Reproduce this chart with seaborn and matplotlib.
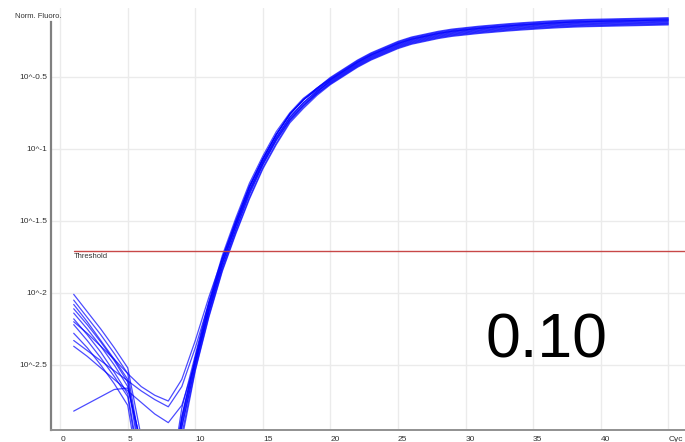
import numpy as np
import pandas as pd
import matplotlib
matplotlib.use("Agg")
import matplotlib.pyplot as plt
from matplotlib.transforms import ScaledTranslation
import seaborn as sns

# Cycle numbers and normalised fluorescence (log10) for each well
cycles = list(range(1, 46))

well_1 = [-2.01, -2.13, -2.25, -2.38, -2.52, -3.00, -3.45, -3.40, -2.80,
          -2.43, -2.06, -1.74, -1.48, -1.24, -1.05, -0.88, -0.75, -0.65, -0.58,
          -0.51, -0.45, -0.39, -0.34, -0.30, -0.26, -0.23, -0.21, -0.19,
          -0.175, -0.165, -0.155, -0.147, -0.139, -0.132, -0.126, -0.120, -0.115, -0.111,
          -0.108, -0.106, -0.104, -0.102, -0.100, -0.098, -0.096]
well_2 = [-2.05, -2.17, -2.29, -2.42, -2.56, -3.10, -3.50, -3.45, -2.86,
          -2.45, -2.08, -1.76, -1.50, -1.26, -1.07, -0.90, -0.76, -0.66, -0.59,
          -0.52, -0.46, -0.40, -0.35, -0.31, -0.27, -0.24, -0.22, -0.20,
          -0.185, -0.175, -0.165, -0.157, -0.149, -0.142, -0.136, -0.130, -0.125, -0.121,
          -0.118, -0.116, -0.114, -0.112, -0.110, -0.108, -0.106]
well_3 = [-2.08, -2.20, -2.33, -2.46, -2.60, -3.15, -3.55, -3.50, -2.90,
          -2.48, -2.11, -1.79, -1.53, -1.29, -1.09, -0.92, -0.78, -0.68, -0.60,
          -0.53, -0.47, -0.41, -0.36, -0.32, -0.28, -0.25, -0.23, -0.21,
          -0.195, -0.185, -0.175, -0.167, -0.159, -0.152, -0.146, -0.140, -0.135, -0.131,
          -0.128, -0.126, -0.124, -0.122, -0.120, -0.118, -0.116]
well_4 = [-2.11, -2.22, -2.34, -2.47, -2.62, -3.20, -3.60, -3.55, -2.93,
          -2.51, -2.14, -1.82, -1.56, -1.32, -1.11, -0.94, -0.80, -0.70, -0.61,
          -0.54, -0.48, -0.42, -0.37, -0.33, -0.29, -0.26, -0.24, -0.22,
          -0.205, -0.195, -0.185, -0.177, -0.169, -0.162, -0.156, -0.150, -0.145, -0.141,
          -0.138, -0.136, -0.134, -0.132, -0.130, -0.128, -0.126]
well_5 = [-2.14, -2.25, -2.37, -2.50, -2.65, -3.05, -3.40, -3.45, -2.88,
          -2.47, -2.10, -1.78, -1.52, -1.27, -1.07, -0.90, -0.76, -0.66, -0.58,
          -0.505, -0.445, -0.385, -0.335, -0.295, -0.255, -0.225, -0.205, -0.185,
          -0.170, -0.160, -0.150, -0.142, -0.134, -0.127, -0.121, -0.115, -0.110, -0.106,
          -0.103, -0.101, -0.099, -0.097, -0.095, -0.093, -0.091]
well_6 = [-2.18, -2.29, -2.41, -2.55, -2.70, -3.25, -3.60, -3.60, -2.98,
          -2.53, -2.16, -1.84, -1.58, -1.34, -1.13, -0.96, -0.81, -0.71, -0.62,
          -0.55, -0.49, -0.43, -0.38, -0.34, -0.30, -0.27, -0.25, -0.23,
          -0.215, -0.205, -0.195, -0.187, -0.179, -0.172, -0.166, -0.160, -0.155, -0.151,
          -0.148, -0.146, -0.144, -0.142, -0.140, -0.138, -0.136]
well_7 = [-2.22, -2.33, -2.45, -2.58, -2.72, -3.30, -3.50, -3.40, -2.86,
          -2.45, -2.08, -1.76, -1.50, -1.26, -1.07, -0.90, -0.76, -0.66, -0.59,
          -0.52, -0.46, -0.40, -0.35, -0.31, -0.27, -0.24, -0.22, -0.20,
          -0.185, -0.175, -0.165, -0.157, -0.149, -0.142, -0.136, -0.130, -0.125, -0.121,
          -0.118, -0.116, -0.114, -0.112, -0.110, -0.108, -0.106]
well_8 = [-2.28, -2.38, -2.50, -2.63, -2.78, -3.35, -3.65, -3.60, -3.02,
          -2.54, -2.17, -1.85, -1.59, -1.35, -1.14, -0.97, -0.82, -0.72, -0.63,
          -0.555, -0.495, -0.435, -0.385, -0.345, -0.305, -0.275, -0.255, -0.235,
          -0.220, -0.210, -0.200, -0.192, -0.184, -0.177, -0.171, -0.165, -0.160, -0.156,
          -0.153, -0.151, -0.149, -0.147, -0.145, -0.143, -0.141]
well_9 = [-2.20, -2.28, -2.37, -2.46, -2.56, -2.65, -2.71, -2.75, -2.60,
          -2.33, -2.03, -1.76, -1.51, -1.27, -1.07, -0.90, -0.76, -0.66, -0.58,
          -0.515, -0.455, -0.395, -0.345, -0.305, -0.265, -0.235, -0.215, -0.195,
          -0.180, -0.170, -0.160, -0.152, -0.144, -0.137, -0.131, -0.125, -0.120, -0.116,
          -0.113, -0.111, -0.109, -0.107, -0.105, -0.103, -0.101]
well_10 = [-2.33, -2.40, -2.47, -2.54, -2.61, -2.68, -2.74, -2.79, -2.65,
           -2.38, -2.07, -1.79, -1.53, -1.29, -1.09, -0.92, -0.78, -0.68, -0.60,
           -0.535, -0.475, -0.415, -0.365, -0.325, -0.285, -0.255, -0.235, -0.215,
           -0.200, -0.190, -0.180, -0.172, -0.164, -0.157, -0.151, -0.145, -0.140, -0.136,
           -0.133, -0.131, -0.129, -0.127, -0.125, -0.123, -0.121]
well_11 = [-2.37, -2.44, -2.52, -2.60, -2.68, -2.76, -2.84, -2.90, -2.78,
           -2.48, -2.13, -1.82, -1.56, -1.31, -1.11, -0.94, -0.80, -0.70, -0.62,
           -0.545, -0.485, -0.425, -0.375, -0.335, -0.295, -0.265, -0.245, -0.225,
           -0.210, -0.200, -0.190, -0.182, -0.174, -0.167, -0.161, -0.155, -0.150, -0.146,
           -0.143, -0.141, -0.139, -0.137, -0.135, -0.133, -0.131]
well_12 = [-2.82, -2.77, -2.72, -2.67, -2.66, -3.05, -3.45, -3.50, -2.93,
           -2.50, -2.12, -1.80, -1.54, -1.30, -1.10, -0.93, -0.79, -0.69, -0.61,
           -0.525, -0.465, -0.405, -0.355, -0.315, -0.275, -0.245, -0.225, -0.205,
           -0.190, -0.180, -0.170, -0.162, -0.154, -0.147, -0.141, -0.135, -0.130, -0.126,
           -0.123, -0.121, -0.119, -0.117, -0.115, -0.113, -0.111]

wells = {
    "1": well_1, "2": well_2, "3": well_3, "4": well_4, "5": well_5, "6": well_6,
    "7": well_7, "8": well_8, "9": well_9, "10": well_10, "11": well_11, "12": well_12,
}

threshold = 0.0195
y_tick_exponents = [-0.5, -1, -1.5, -2, -2.5]
y_tick_labels = ["10^-0.5", "10^-1", "10^-1.5", "10^-2", "10^-2.5"]
x_ticks = [0, 5, 10, 15, 20, 25, 30, 35, 40, 45]
x_tick_labels = ["0", "5", "10", "15", "20", "25", "30", "35", "40", "Cyc"]
annotation = "0.10"

rows = []
for name, vals in wells.items():
    for c, v in zip(cycles, vals):
        rows.append({"Cycle": c, "Fluoro": 10.0 ** v, "Well": name})
df = pd.DataFrame(rows)

sns.set_style("white")
plt.rcParams["font.family"] = ["Liberation Sans", "DejaVu Sans"]

fig = plt.figure(figsize=(6.85, 4.42), dpi=100)
ax = fig.add_axes([51 / 685, 12 / 442, (685 - 51) / 685, 422 / 442])

sns.lineplot(data=df, x="Cycle", y="Fluoro", units="Well", estimator=None,
             color="#0000ff", linewidth=0.9, alpha=0.7, ax=ax, legend=False)

ax.set_yscale("log")
ax.set_xlim(-0.68, 46.24)
ax.set_ylim(10 ** -2.951, 10 ** -0.0236)

# grid and ticks
ax.set_xticks(x_ticks)
ax.set_xticklabels(x_tick_labels)
ax.set_yticks([10 ** e for e in y_tick_exponents])
ax.set_yticklabels(y_tick_labels)
ax.minorticks_off()
ax.grid(True, color="#ebebeb", linewidth=1.0)
ax.set_axisbelow(True)

for lab in ax.get_xticklabels():
    lab.set_ha("left")
    lab.set_transform(lab.get_transform() + ScaledTranslation(1.5 / 72, 0, fig.dpi_scale_trans))
for lab in ax.get_yticklabels():
    lab.set_transform(lab.get_transform() + ScaledTranslation(0, 3 / 72, fig.dpi_scale_trans))

ax.tick_params(axis="both", which="major", labelsize=6, colors="#333333",
               length=3, width=0.8, pad=1)
ax.tick_params(axis="x", direction="out", color="#777777")
ax.tick_params(axis="y", direction="inout", color="#777777")

for side in ("top", "right"):
    ax.spines[side].set_visible(False)
ax.spines["left"].set_color("#808080")
ax.spines["left"].set_linewidth(1.6)
ax.spines["bottom"].set_color("#909090")
ax.spines["bottom"].set_linewidth(1.4)
ax.spines["left"].set_bounds(10 ** -2.951, 10 ** -0.121)

ax.set_xlabel("")
ax.set_ylabel("")

# threshold line
ax.plot([1, 46.24], [threshold, threshold], color="#c84848", linewidth=1.0,
        clip_on=False)
ax.text(1, threshold, "Threshold", fontsize=5.5, color="#333333", ha="left", va="top",
        transform=ax.transData + ScaledTranslation(0, -1.5 / 72, fig.dpi_scale_trans))

fig.text(15 / 685, 1 - 16 / 442, "Norm. Fluoro.", fontsize=5.5, color="#333333",
         ha="left", va="center")
fig.text(485 / 685, 1 - 357 / 442, annotation, fontsize=45, color="black",
         ha="left", va="baseline")

fig.savefig("out.png", dpi=100)
